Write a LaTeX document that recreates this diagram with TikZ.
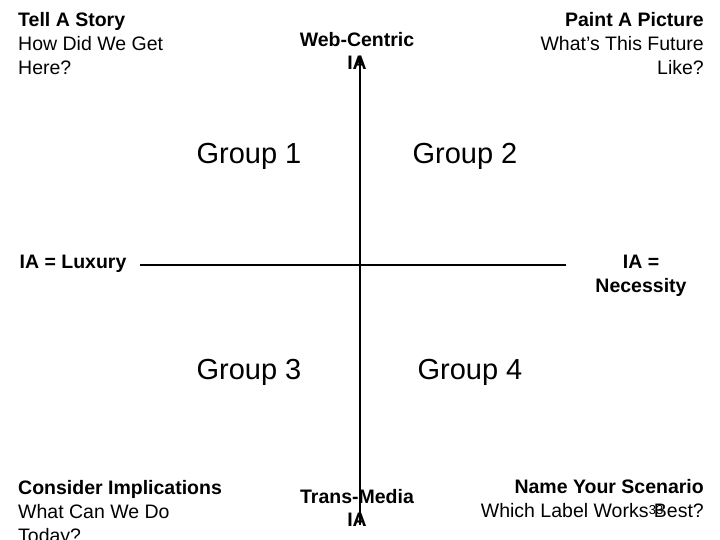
\documentclass[tikz,border=0pt]{standalone}
\usepackage{fontspec}
\usetikzlibrary{arrows.meta}
\setmainfont{Liberation Sans}
\begin{document}
\begin{tikzpicture}[x=1pt,y=-1pt,
  lbl/.style={inner sep=0pt,font=\fontsize{19.5}{24}\selectfont,align=left},
  grp/.style={inner sep=0pt,font=\fontsize{29}{32}\selectfont}]
\path[use as bounding box,clip] (0,0) rectangle (720,540);
\node[lbl,anchor=north west] (tl) at (18,12) {\textbf{Tell A Story}\\How Did We Get\\Here?};
\node[lbl,anchor=north east,align=right] (tr) at (704,12) {\textbf{Paint A Picture}\\What’s This Future\\Like?};
\node[lbl,anchor=north west] (bl) at (18,480) {\textbf{Consider Implications}\\What Can We Do\\Today?};
\node[lbl,anchor=north east,align=right] (br) at (704,479) {\textbf{Name Your Scenario}\\Which Label Works Best?};
\node[inner sep=0pt,font=\fontsize{13}{14}\selectfont] (pg) at (656,510) {33};
\node[lbl,align=center,font=\bfseries\fontsize{19.5}{23}\selectfont] (top) at (357,51) {Web-Centric\\IA};
\node[lbl,align=center,font=\bfseries\fontsize{19.5}{23}\selectfont] (bot) at (357,508) {Trans-Media\\IA};
\node[lbl,font=\bfseries\fontsize{19.5}{24}\selectfont] (left) at (73,264) {IA = Luxury};
\node[lbl,align=center,font=\bfseries\fontsize{19.5}{24}\selectfont] (right) at (641,276) {IA =\\Necessity};
\node[grp] (g1) at (249,156) {Group 1};
\node[grp] (g2) at (465,156) {Group 2};
\node[grp] (g3) at (249,372) {Group 3};
\node[grp] (g4) at (470,372) {Group 4};
\coordinate (vb) at (360,525);
\coordinate (vt) at (360,55);
\coordinate (hl) at (140,265);
\coordinate (hr) at (566,265);
\draw[line width=2.5pt,-{Stealth[length=10pt,width=8pt]}] (vb) -- (vt);
\draw[line width=2.5pt] (hl) -- (hr);
\end{tikzpicture}
\end{document}
